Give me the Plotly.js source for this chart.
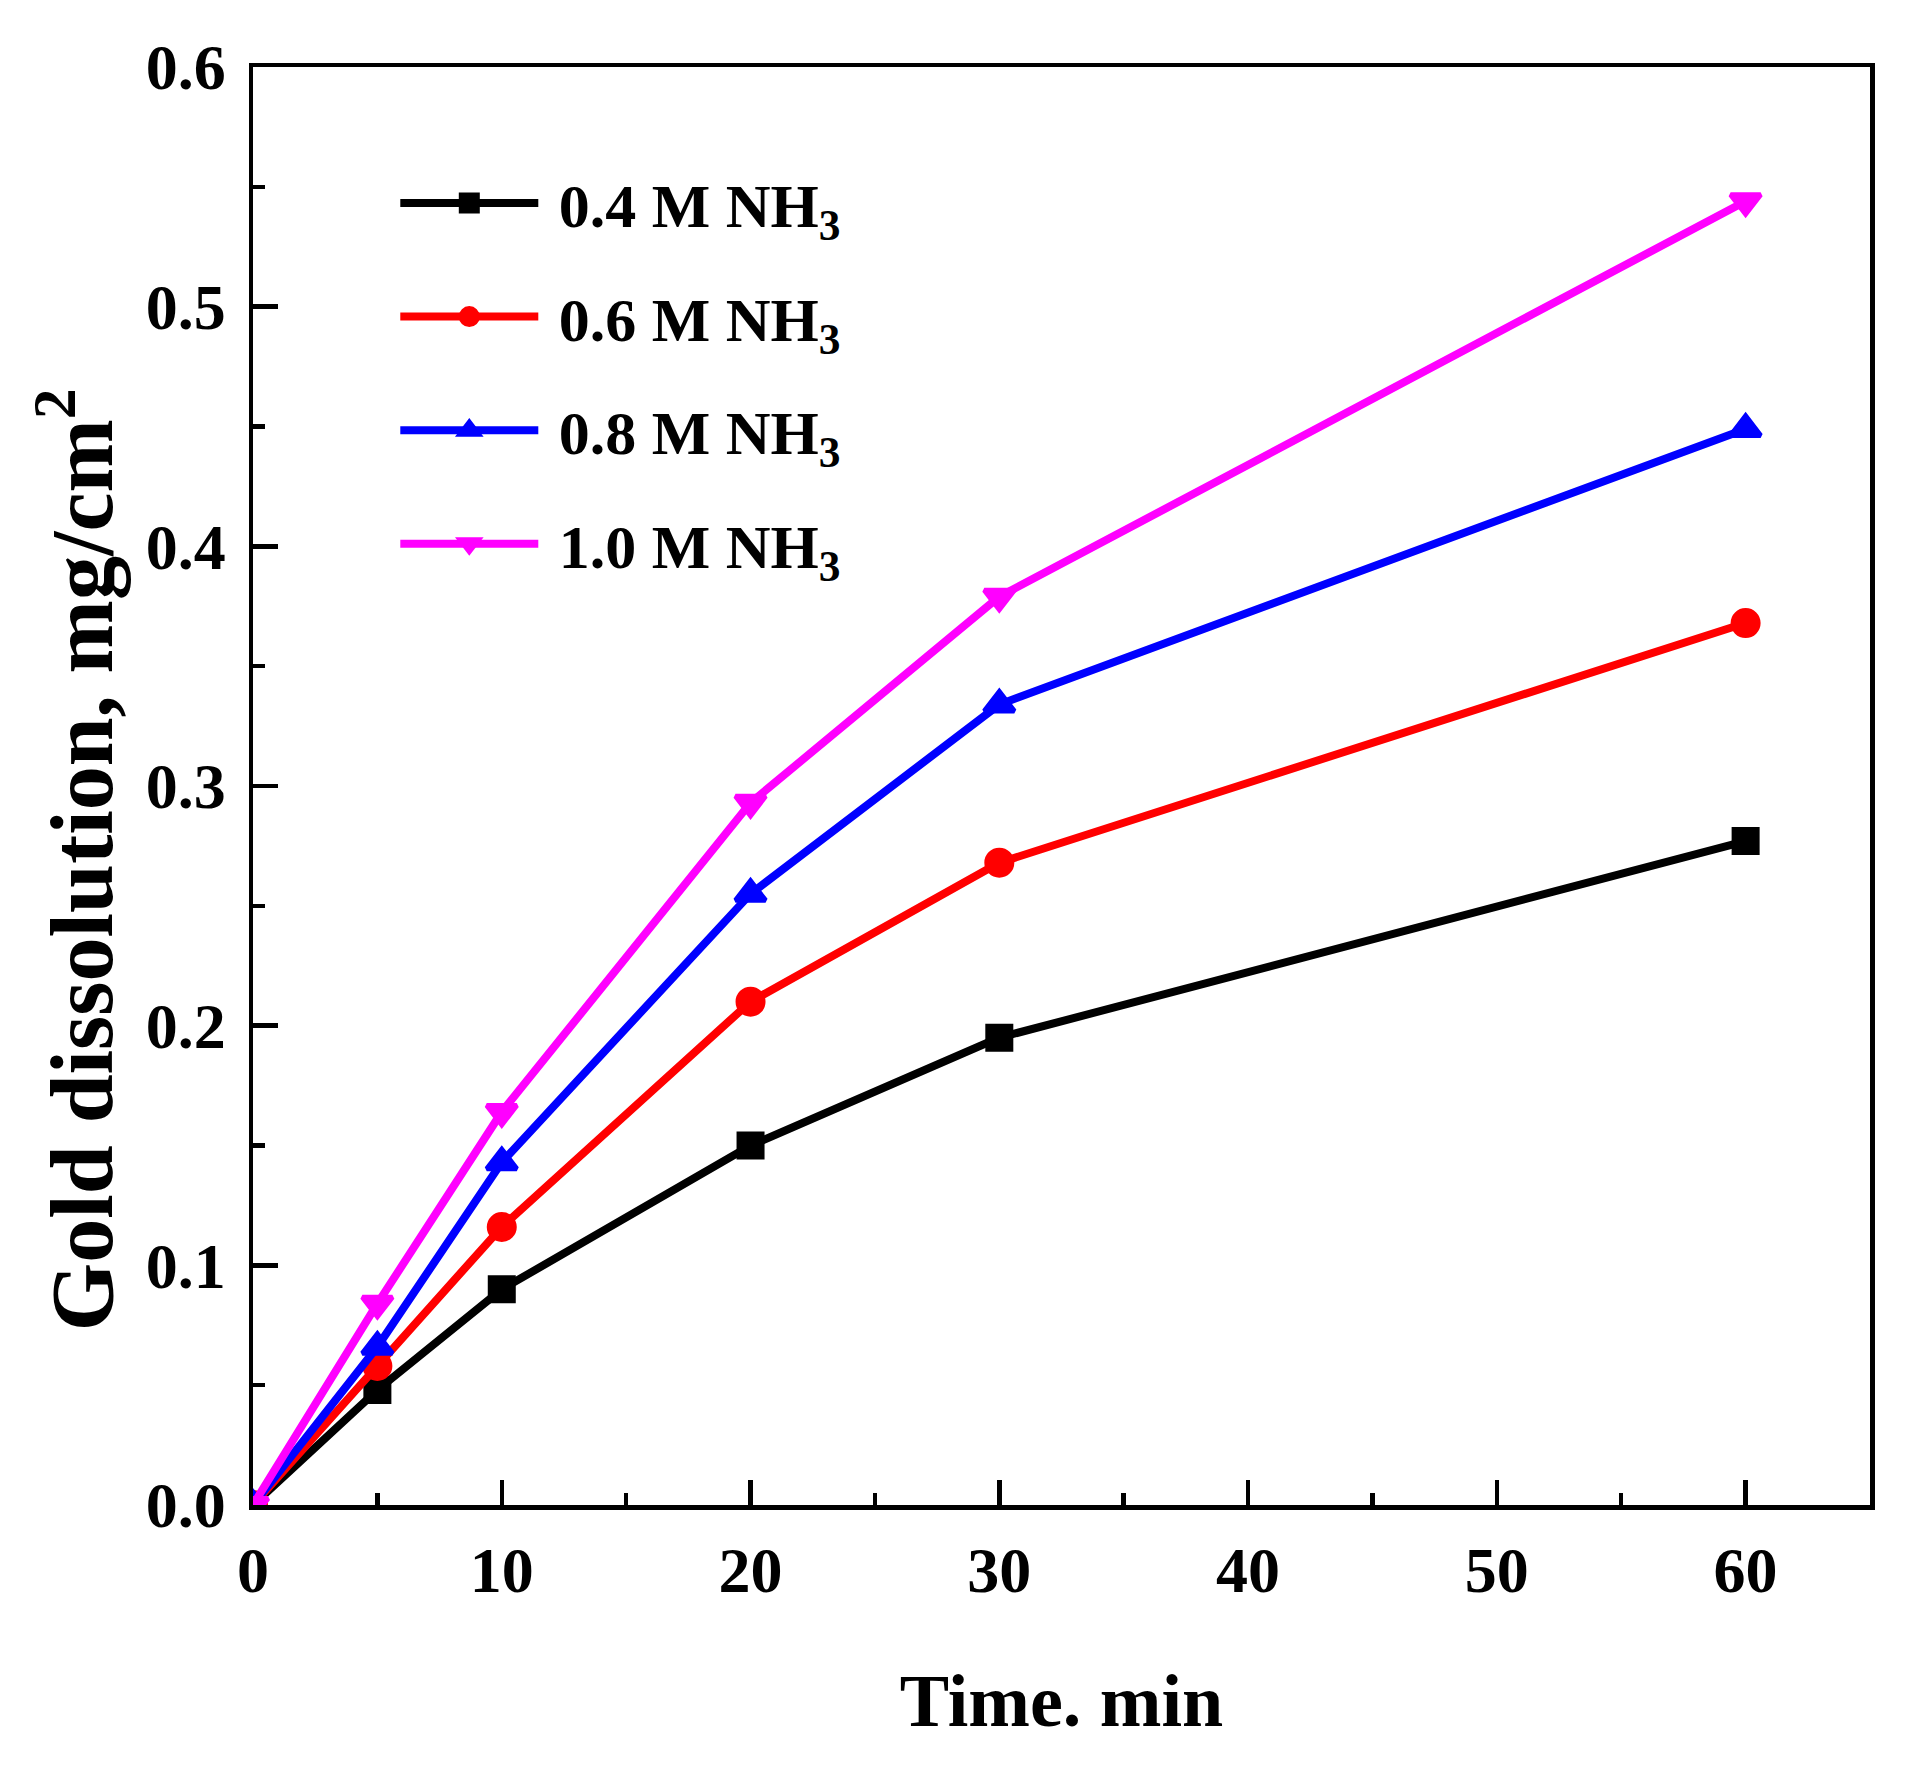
<!DOCTYPE html>
<html>
<head>
<meta charset="utf-8">
<script src="https://cdn.plot.ly/plotly-3.0.1.min.js"></script>
<style>html,body{margin:0;padding:0;background:#fff;}</style>
</head>
<body>
<div id="chart" style="width:1928px;height:1768px;"></div>
<script>
const timeMin = [0, 5, 10, 20, 30, 60];
const nh3_04 = [0, 0.048, 0.090, 0.150, 0.195, 0.277];
const nh3_06 = [0, 0.058, 0.116, 0.210, 0.268, 0.368];
const nh3_08 = [0, 0.066, 0.143, 0.255, 0.334, 0.449];
const nh3_10 = [0, 0.084, 0.164, 0.293, 0.379, 0.544];
const seriesNames = ['0.4 M NH<sub>3</sub>', '0.6 M NH<sub>3</sub>', '0.8 M NH<sub>3</sub>', '1.0 M NH<sub>3</sub>'];
const xTitle = 'Time. min';
const yTitle = 'Gold dissolution, mg/cm<sup>2</sup>';

const FONT = 'Liberation Serif, Times New Roman, serif';
const colors = ['#000000', '#ff0000', '#0000ff', '#ff00ff'];
const symbols = ['square', 'circle', 'triangle-up', 'triangle-down'];
const sizes = [23, 25, 26, 26];
const values = [nh3_04, nh3_06, nh3_08, nh3_10];

const traces = values.map((v, i) => ({
  x: timeMin,
  y: v,
  name: '\u00a0' + seriesNames[i],
  type: 'scatter',
  mode: 'lines+markers',
  legendgroup: 'g' + i,
  line: {color: colors[i], width: 8},
  marker: {color: colors[i], symbol: symbols[i], size: sizes[i], line: {width: 5, color: colors[i]}}
}));

const axisCommon = {
  showline: true, linecolor: '#000', linewidth: 4.5, mirror: true,
  ticks: 'inside', ticklen: 25, tickwidth: 4.5, tickcolor: '#000',
  showgrid: false, zeroline: false,
  tickfont: {family: FONT, size: 64, color: '#000', weight: 'bold'}
};

const layout = {
  width: 1928, height: 1768,
  margin: {l: 253, r: 58, t: 67, b: 263},
  paper_bgcolor: '#fff', plot_bgcolor: '#fff',
  font: {family: FONT, color: '#000', weight: 'bold'},
  showlegend: true,
  xaxis: Object.assign({}, axisCommon, {
    range: [0, 65], dtick: 10, tick0: 0,
    ticklabelstandoff: 6,
    minor: {dtick: 5, ticks: 'inside', ticklen: 12, tickwidth: 4.5, tickcolor: '#000'},
    title: {text: xTitle, font: {family: FONT, size: 74, color: '#000', weight: 'bold'}, standoff: 70}
  }),
  yaxis: Object.assign({}, axisCommon, {
    range: [0, 0.6], dtick: 0.1, tick0: 0, tickformat: '.1f',
    ticklabelstandoff: 10,
    minor: {dtick: 0.05, ticks: 'inside', ticklen: 12, tickwidth: 4.5, tickcolor: '#000'}
  }),
  annotations: [{
    text: yTitle, textangle: -90, showarrow: false,
    xref: 'paper', yref: 'paper', x: -0.11, y: 0.4485,
    xanchor: 'center', yanchor: 'middle',
    font: {family: FONT, size: 88, color: '#000', weight: 'bold'}
  }],
  legend: {
    x: 0.088, y: 0.938, xanchor: 'left', yanchor: 'top',
    bgcolor: 'rgba(0,0,0,0)', borderwidth: 0,
    traceorder: 'grouped', tracegroupgap: 30,
    itemwidth: 138,
    font: {family: FONT, size: 62, color: '#000', weight: 'bold'}
  }
};

Plotly.newPlot('chart', traces, layout, {staticPlot: true, displayModeBar: false});
</script>
</body>
</html>
